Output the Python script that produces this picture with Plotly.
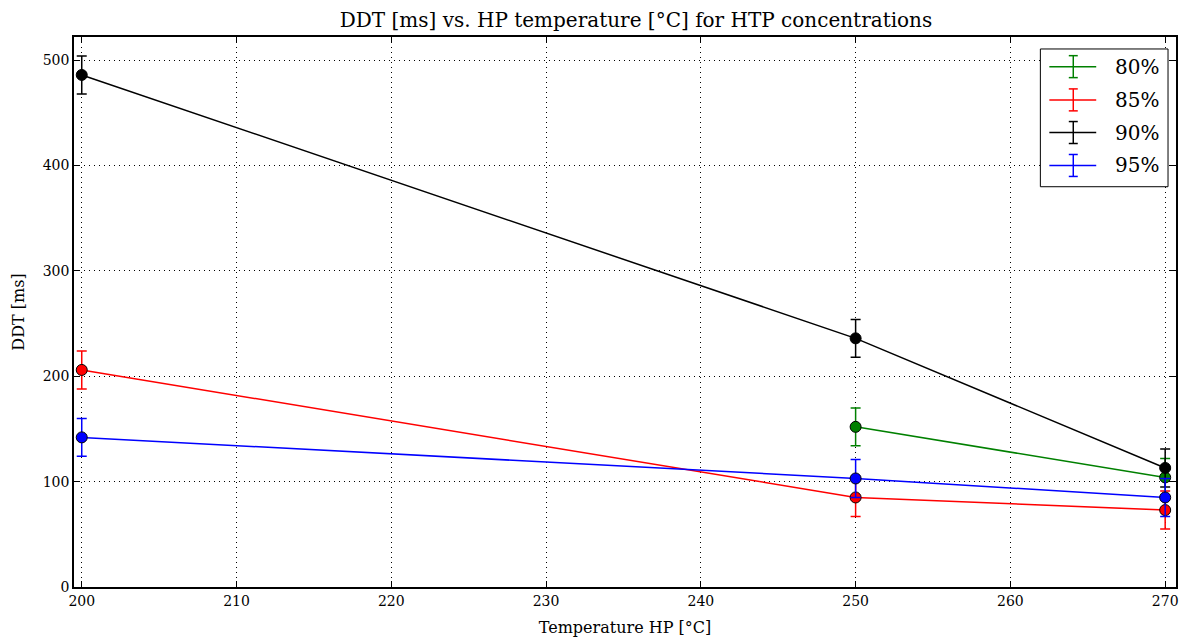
import plotly.graph_objects as go

# ---- data ----
labels = ["80%", "85%", "90%", "95%"]
colors = ["green", "red", "black", "blue"]
temps_80 = [250, 270]
ddt_80 = [152, 104]
err_80 = [18, 18]
temps_85 = [200, 250, 270]
ddt_85 = [206, 85, 73]
err_85 = [18, 18, 18]
temps_90 = [200, 250, 270]
ddt_90 = [486, 236, 113]
err_90 = [18, 18, 18]
temps_95 = [200, 250, 270]
ddt_95 = [142, 103, 85]
err_95 = [18, 18, 18]
x_ticks = [200, 210, 220, 230, 240, 250, 260, 270]
y_ticks = [0, 100, 200, 300, 400, 500]

series = [
    (temps_80, ddt_80, err_80),
    (temps_85, ddt_85, err_85),
    (temps_90, ddt_90, err_90),
    (temps_95, ddt_95, err_95),
]

FONT = "DejaVu Serif"
W, H = 1182, 637
L, R, T, B = 74, 1179, 37, 588

fig = go.Figure()
for (xs, ys, es), lab, col in zip(series, labels, colors):
    fig.add_trace(go.Scatter(
        x=xs, y=ys, mode="lines+markers", name=lab,
        line=dict(color=col, width=1.5),
        marker=dict(size=11, color=col, line=dict(color="black", width=1)),
        error_y=dict(type="data", array=es, visible=True, color=col,
                     thickness=1.5, width=5),
        showlegend=False,
    ))

# ---- manual legend (matplotlib-style errorbar handles) ----
def px(x):
    return (x - L) / (R - L)

def py(y):
    return (B - y) / (B - T)

shapes = []
annotations = []
shapes.append(dict(type="rect", xref="paper", yref="paper",
                   x0=px(1043), x1=px(1171), y0=py(187), y1=py(49),
                   line=dict(color="black", width=1), fillcolor="white",
                   layer="above"))
entry_y = [66.7, 100, 132.7, 165.7]
for lab, col, ey in zip(labels, colors, entry_y):
    shapes.append(dict(type="line", xref="paper", yref="paper",
                       x0=px(1052), x1=px(1099), y0=py(ey), y1=py(ey),
                       line=dict(color=col, width=1.5), layer="above"))
    shapes.append(dict(type="line", xref="paper", yref="paper",
                       x0=px(1076), x1=px(1076), y0=py(ey - 11), y1=py(ey + 11),
                       line=dict(color=col, width=1.5), layer="above"))
    for cy in (ey - 11, ey + 11):
        shapes.append(dict(type="line", xref="paper", yref="paper",
                           x0=px(1071.5), x1=px(1080.5), y0=py(cy), y1=py(cy),
                           line=dict(color=col, width=1.5), layer="above"))
    annotations.append(dict(xref="paper", yref="paper", x=px(1116), y=py(ey),
                            text=lab, showarrow=False, xanchor="left",
                            yanchor="middle",
                            font=dict(family=FONT, size=20, color="black")))

fig.update_layout(
    width=W, height=H,
    margin=dict(l=L, r=W - R, t=T, b=H - B),
    paper_bgcolor="white", plot_bgcolor="white",
    title=dict(text="DDT [ms] vs. HP temperature [°C] for HTP concentrations",
               x=636 / W, xanchor="center",
               y=1 - 20 / H, yanchor="middle",
               font=dict(family=FONT, size=20, color="black")),
    font=dict(family=FONT, color="black"),
    shapes=shapes, annotations=annotations,
    showlegend=False,
)
axis_common = dict(
    ticks="inside", ticklen=6, tickcolor="black", tickwidth=1,
    mirror="ticks", showline=True, linecolor="black", linewidth=1.5,
    showgrid=True, gridcolor="black", gridwidth=1, griddash="1px,4px",
    zeroline=False, tickfont=dict(family=FONT, size=14, color="black"),
)
fig.update_xaxes(
    range=[199.5, 270.7], tickvals=x_ticks,
    title=dict(text="Temperature HP [°C]", standoff=14,
               font=dict(family=FONT, size=16, color="black")),
    **axis_common,
)
fig.update_yaxes(
    range=[0, 522], tickvals=y_ticks,
    title=dict(text="DDT [ms]", standoff=14,
               font=dict(family=FONT, size=16, color="black")),
    **axis_common,
)

fig.write_html("out.html")
